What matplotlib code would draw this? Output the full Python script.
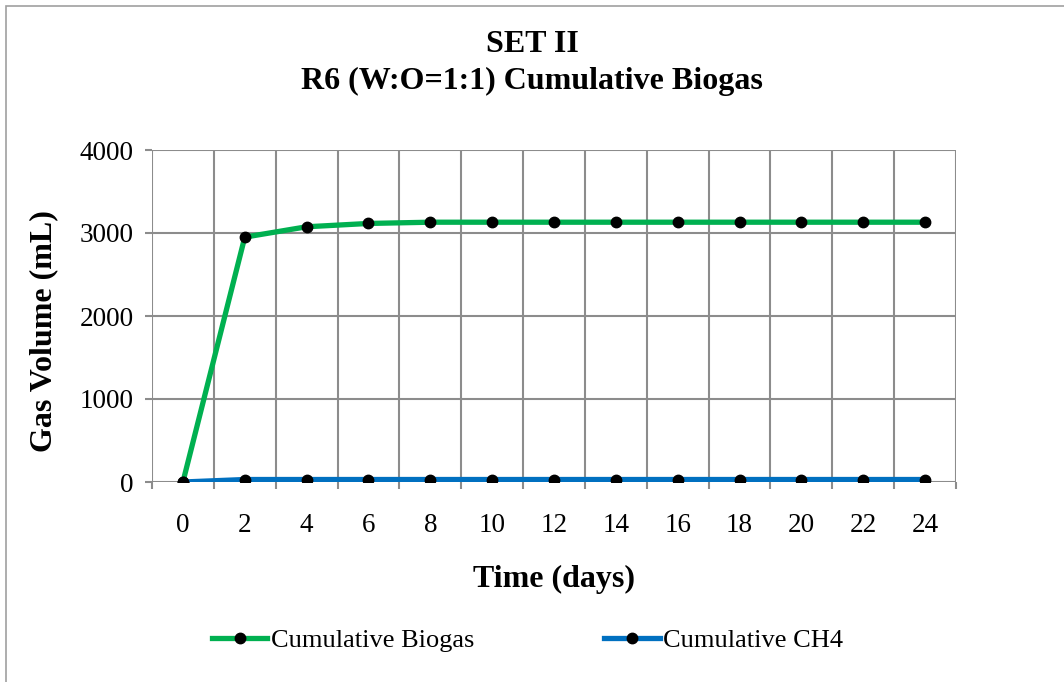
import matplotlib.pyplot as plt
from matplotlib.patches import Rectangle
import numpy as np

plt.rcParams['font.family'] = ['Liberation Serif', 'DejaVu Serif']

days = [0, 2, 4, 6, 8, 10, 12, 14, 16, 18, 20, 22, 24]
biogas = [0, 2950, 3075, 3115, 3130, 3130, 3130, 3130, 3130, 3130, 3130, 3130, 3130]
ch4 = [0, 30, 30, 30, 30, 30, 30, 30, 30, 30, 30, 30, 30]
y_ticks = [0, 1000, 2000, 3000, 4000]

grid_col = '#8c8c8c'

fig = plt.figure(figsize=(10.64, 6.82), dpi=100)
ax = fig.add_axes([152 / 1064, 1 - 482 / 682, 804 / 1064, 332 / 682])

pos = np.arange(len(days))
ax.plot(pos, biogas, color='#00b050', lw=3.8, marker='o', ms=7.5,
        mfc='black', mec='black', label='Cumulative Biogas', zorder=3)
ax.plot(pos, ch4, color='#0070c0', lw=3.8, marker='o', ms=7.5,
        mfc='black', mec='black', label='Cumulative CH4', zorder=3)

ax.set_xlim(-0.5, len(days) - 0.5)
ax.set_ylim(0, 4000)
ax.set_yticks(y_ticks)
ax.set_xticks(pos)
ax.set_xticklabels([str(d) for d in days])
ax.set_xticks(np.arange(len(days) + 1) - 0.5, minor=True)

# category boundaries carry the vertical grid
ax.grid(False)
for xb in np.arange(len(days) + 1) - 0.5:
    ax.axvline(xb, color=grid_col, lw=1.5, zorder=1)
for yv in y_ticks:
    ax.axhline(yv, color=grid_col, lw=1.5, zorder=1)

for s in ax.spines.values():
    s.set_visible(False)

ax.tick_params(axis='x', which='major', length=0, labelsize=19.5, pad=22)
ax.tick_params(axis='x', which='minor', length=5, color=grid_col, width=1.5)
ax.tick_params(axis='y', length=5, color=grid_col, width=1.5, labelsize=19.5, pad=8)

ax.set_xlabel('Time (days)', fontsize=23, fontweight='bold', labelpad=20)
ax.set_ylabel('Gas Volume (mL)', fontsize=23, fontweight='bold')
ax.yaxis.set_label_coords(-94 / 804, 0.455)
fig.text(0.5, 1 - 45 / 682, 'SET II', ha='center', va='center',
         fontsize=23, fontweight='bold')
fig.text(0.5, 1 - 81 / 682, 'R6 (W:O=1:1) Cumulative Biogas', ha='center',
         va='center', fontsize=23, fontweight='bold')

fig.legend(loc='center', bbox_to_anchor=(0.496, 1 - 640 / 682), ncol=2,
           frameon=False, fontsize=19, handlelength=2.1, handletextpad=0.15,
           columnspacing=4.9)

fig.patches.append(Rectangle((6 / 1064, -0.01), 1.02, 1 - 6 / 682 + 0.01,
                             transform=fig.transFigure, fill=False,
                             edgecolor='#a0a0a0', lw=1.2))

fig.savefig('out.png', dpi=100)
